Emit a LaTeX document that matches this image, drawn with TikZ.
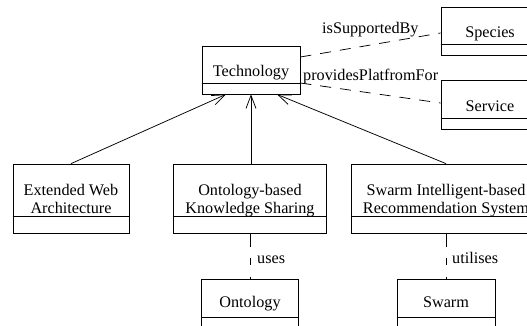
\documentclass[tikz,border=0pt]{standalone}
\usepackage{fontspec}
\setmainfont{Liberation Serif}
\usetikzlibrary{arrows.meta}
\tikzset{
  umlbox/.style={draw, line width=0.75pt, inner sep=0pt, fill=white},
  lbl/.style={inner sep=0pt, font=\fontsize{16.2}{18}\selectfont, align=center},
  gen/.style={line width=0.75pt, -{Straight Barb[length=13pt,width=10pt,line width=0.75pt]}},
  assoc/.style={line width=0.75pt, dash pattern=on 11pt off 9pt},
  dep/.style={line width=0.75pt, dash pattern=on 14pt off 11pt on 7pt off 12pt on 2pt},
}
\begin{document}
\begin{tikzpicture}[x=1pt, y=-1pt]
\useasboundingbox (0,0) rectangle (527,325);
\fill[white] (0,0) rectangle (527,325);
\clip (0,0) rectangle (527,325);

% class boxes (outer frame)
\node[umlbox, minimum width=98pt, minimum height=48pt] (tech)    at (251,70)    {};
\node[umlbox, minimum width=98pt, minimum height=48pt] (species) at (490,31)    {};
\node[umlbox, minimum width=98pt, minimum height=49pt] (service) at (490,104.5) {};
\node[umlbox, minimum width=116pt, minimum height=69pt] (ewa)    at (71,198.5)  {};
\node[umlbox, minimum width=153pt, minimum height=69pt] (okb)    at (250,198.5) {};
\node[umlbox, minimum width=190pt, minimum height=69pt] (sirs)   at (446,198.5) {};
\node[umlbox, minimum width=97pt, minimum height=51pt] (onto)    at (250,304.5) {};
\node[umlbox, minimum width=98pt, minimum height=51pt] (swarm)   at (446,304.5) {};

% compartment dividers
\foreach \b/\h in {tech/11, species/11, service/11, ewa/17, okb/17, sirs/17, onto/13, swarm/13}
  \draw[line width=0.75pt] ([yshift=\h pt]\b.south west) -- ([yshift=\h pt]\b.south east);

% class names (two-line names are placed by the baseline of their last line)
\node[lbl, anchor=base] (techname)    at (251,76)  {Technology};
\node[lbl, anchor=base] (speciesname) at (490,37)  {Species};
\node[lbl, anchor=base] (servicename) at (490,111) {Service};
\node[lbl, anchor=base] (ewaname)     at (71,213)  {Extended Web\\Architecture};
\node[lbl, anchor=base] (okbname)     at (250,213) {Ontology-based\\Knowledge Sharing};
\node[lbl, anchor=base] (sirsname)    at (446,213) {Swarm Intelligent-based\\Recommendation System};
\node[lbl, anchor=base] (ontoname)    at (250,307) {Ontology};
\node[lbl, anchor=base] (swarmname)   at (446,307) {Swarm};

% generalisations
\draw[gen] (ewa.north) -- ([xshift=-25pt]tech.south);
\draw[gen] (okb.north -| tech.south) -- (tech.south);
\draw[gen] (sirs.north) -- ([xshift=26pt]tech.south);

% associations
\draw[assoc] ([yshift=13pt]tech.east) -- ([yshift=-2pt]species.west);
\draw[assoc] ([yshift=-13pt]tech.east) -- ([yshift=1.5pt]service.west);
\node[lbl, anchor=base west] (supp) at (322,33) {isSupportedBy};
\node[lbl, anchor=base west] (prov) at (303,80) {providesPlatfromFor};

% dependencies
\draw[dep] (okb.south) -- (onto.north);
\draw[dep] (sirs.south) -- (swarm.north);
\node[lbl, anchor=base west] (uses) at (257,263) {uses};
\node[lbl, anchor=base west] (util) at (452,263) {utilises};
\end{tikzpicture}
\end{document}
